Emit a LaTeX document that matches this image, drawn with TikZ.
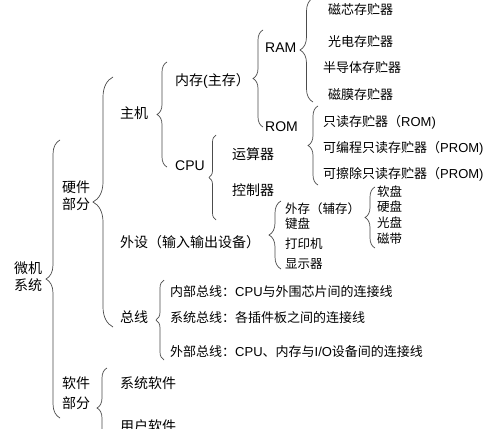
\documentclass[tikz,border=0pt]{standalone}
\usepackage{fontspec}
\setmainfont{Noto Sans CJK SC}
\newfontfamily\latf{Liberation Sans}
\usetikzlibrary{decorations.pathreplacing}
\begin{document}
\begin{tikzpicture}[x=1pt,y=-1pt,
  lab/.style={anchor=west,inner sep=0pt,font=\fontsize{14}{17}\selectfont},
  itm/.style={anchor=west,inner sep=0pt,font=\fontsize{13}{15}\selectfont},
  sml/.style={anchor=west,inner sep=0pt,font=\fontsize{12.5}{14}\selectfont},
  br/.style={draw=black!70,line width=0.7pt,decorate,decoration={brace,amplitude=#1}},
]
\useasboundingbox (0,0) rectangle (500,428);
\clip (0,0) rectangle (500,428);
\fill[white] (0,0) rectangle (500,428);

% level 0-1
\node[lab,align=center,anchor=center] (wj) at (28,277) {微机\\系统};
\node[lab,align=center,anchor=center] (yj) at (76,196) {硬件\\部分};
\node[lab,align=center,anchor=center,font=\fontsize{14}{20}\selectfont] (rj) at (76,393) {软件\\部分};

% level 2
\node[lab] (zj) at (120,113) {主机};
\node[lab] (wsh) at (120,242) {外设（输入输出设备）};
\node[lab] (zx) at (120,317) {总线};
\node[lab] (xtrj) at (120,383) {系统软件};
\node[lab] (yhrj) at (120,426) {用户软件};

% level 3
\node[lab] (nc) at (175,81) {内存{\latf (}主存）};
\node[lab] (cpu) at (175,166) {\latf CPU};
\node[lab] (ys) at (232,154) {运算器};
\node[lab] (kz) at (232,190) {控制器};
\node[lab] (ram) at (265,48) {\latf RAM};
\node[lab] (rom) at (265,127) {\latf ROM};

\node[itm] (m1) at (328,10) {磁芯存贮器};
\node[itm] (m2) at (328,42) {光电存贮器};
\node[itm] (m3) at (323,68) {半导体存贮器};
\node[itm] (m4) at (328,95) {磁膜存贮器};
\node[itm] (r1) at (323,122) {只读存贮器（{\latf ROM)}};
\node[itm] (r2) at (323,148) {可编程只读存贮器（{\latf PROM)}};
\node[itm] (r3) at (323,174) {可擦除只读存贮器（{\latf PROM)}};

\node[sml] (p1) at (285,209) {外存（辅存）};
\node[sml] (p2) at (285,224) {键盘};
\node[sml] (p3) at (285,244) {打印机};
\node[sml] (p4) at (285,264) {显示器};
\node[sml] (d1) at (377,192) {软盘};
\node[sml] (d2) at (377,207) {硬盘};
\node[sml] (d3) at (377,223) {光盘};
\node[sml] (d4) at (377,239) {磁带};

\node[itm] (b1) at (170,292) {内部总线：{\latf CPU}与外围芯片间的连接线};
\node[itm] (b2) at (170,318) {系统总线：各插件板之间的连接线};
\node[itm] (b3) at (170,352) {外部总线：{\latf CPU}、内存与{\latf I/O}设备间的连接线};

% brace end points
\coordinate (wjT) at (60,140);   \coordinate (wjB) at (60,418);
\coordinate (yjT) at (113,77);   \coordinate (yjB) at (113,327);
\coordinate (rjT) at (107,368);  \coordinate (rjB) at (107,448);
\coordinate (zjT) at (167,62);   \coordinate (zjB) at (167,167);
\coordinate (wsT) at (281,201);  \coordinate (wsB) at (281,269);
\coordinate (zxT) at (164,280);  \coordinate (zxB) at (164,360);
\coordinate (ncT) at (263,30);   \coordinate (ncB) at (263,127);
\coordinate (cpT) at (216,135);  \coordinate (cpB) at (216,220);
\coordinate (raT) at (313,-2);   \coordinate (raB) at (313,102);
\coordinate (roT) at (318,106);  \coordinate (roB) at (318,185);
\coordinate (p1T) at (375,187);  \coordinate (p1B) at (375,248);

\draw[br=14] (wjB) -- (wjT);
\draw[br=20] (yjB) -- (yjT);
\draw[br=10] (rjB) -- (rjT);
\draw[br=10] (zjB) -- (zjT);
\draw[br=12] (wsB) -- (wsT);
\draw[br=8]  (zxB) -- (zxT);
\draw[br=10] (ncB) -- (ncT);
\draw[br=7]  (cpB) -- (cpT);
\draw[br=13] (raB) -- (raT);
\draw[br=10] (roB) -- (roT);
\draw[br=10] (p1B) -- (p1T);
\end{tikzpicture}
\end{document}
